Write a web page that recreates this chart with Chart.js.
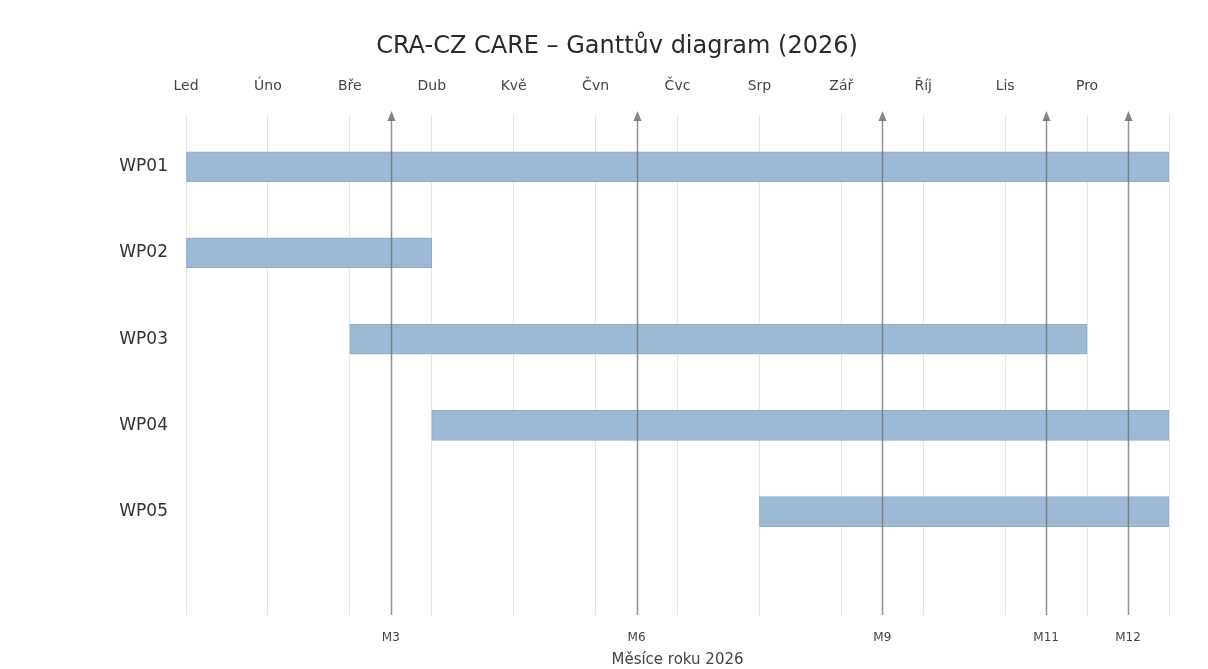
<!DOCTYPE html>
<html>
<head>
<meta charset="utf-8">
<script src="https://cdn.jsdelivr.net/npm/chart.js@4.4.1/dist/chart.umd.min.js"></script>
<style>
  html,body{margin:0;padding:0;background:#fff;}
  #wrap{width:1208px;height:669px;}
</style>
</head>
<body>
<div id="wrap"><canvas id="c" width="1208" height="669"></canvas></div>
<script>
const chartTitle = 'CRA-CZ CARE – Ganttův diagram (2026)';
const axisTitle = 'Měsíce roku 2026';
const workPackages = ['WP01', 'WP02', 'WP03', 'WP04', 'WP05'];
const startMonth = [0, 0, 2, 3, 7];
const endMonth = [12, 3, 11, 12, 12];
const monthLabels = ['Led', 'Úno', 'Bře', 'Dub', 'Kvě', 'Čvn', 'Čvc', 'Srp', 'Zář', 'Říj', 'Lis', 'Pro'];
const milestoneLabels = ['M3', 'M6', 'M9', 'M11', 'M12'];
const milestoneAt = [2.5, 5.5, 8.5, 10.5, 11.5];

const FONT = "'DejaVu Sans', sans-serif";

const milestonePlugin = {
  id: 'milestones',
  afterDatasetsDraw(chart) {
    const ctx = chart.ctx;
    const xs = chart.scales.x;
    const area = chart.chartArea;
    ctx.save();
    ctx.strokeStyle = 'rgba(110,110,110,0.75)';
    ctx.fillStyle = 'rgba(110,110,110,0.85)';
    ctx.lineWidth = 1.5;
    milestoneAt.forEach(v => {
      const px = Math.round(xs.getPixelForValue(v)) + 0.5;
      const tipY = area.top - 4;
      ctx.beginPath();
      ctx.moveTo(px, area.bottom);
      ctx.lineTo(px, tipY + 8);
      ctx.stroke();
      ctx.beginPath();
      ctx.moveTo(px, tipY);
      ctx.lineTo(px - 4, tipY + 10);
      ctx.lineTo(px + 4, tipY + 10);
      ctx.closePath();
      ctx.fill();
    });
    ctx.restore();
  }
};

new Chart(document.getElementById('c'), {
  type: 'bar',
  data: {
    datasets: [{
      data: workPackages.map((w, i) => ({ x: [startMonth[i], endMonth[i]], y: i })),
      backgroundColor: 'rgb(158,185,214)',
      borderColor: 'rgb(140,170,204)',
      borderWidth: 1,
      borderSkipped: false,
      barThickness: 30,
      xAxisID: 'x',
      yAxisID: 'y'
    }]
  },
  options: {
    indexAxis: 'y',
    responsive: false,
    animation: false,
    layout: { padding: { left: 65, right: 39, top: 0, bottom: 0 } },
    plugins: {
      legend: { display: false },
      tooltip: { enabled: false },
      title: {
        display: true,
        text: chartTitle,
        color: '#2a2a2a',
        font: { family: FONT, size: 24, weight: 'normal' },
        padding: { top: 32, bottom: 9 }
      }
    },
    scales: {
      x: {
        type: 'linear',
        position: 'top',
        min: 0,
        max: 12,
        offset: false,
        afterBuildTicks: s => { s.ticks = Array.from({ length: 13 }, (_, i) => ({ value: i })); },
        afterFit: s => { s.height = 45.2; },
        ticks: {
          callback: (v, i) => monthLabels[i] !== undefined ? monthLabels[i] : '',
          color: '#444',
          font: { family: FONT, size: 14 },
          padding: 20,
          maxRotation: 0,
          autoSkip: false
        },
        grid: { color: '#e6e6e6', lineWidth: 1, drawTicks: false },
        border: { display: false }
      },
      x2: {
        type: 'linear',
        position: 'bottom',
        min: 0,
        max: 12,
        offset: false,
        afterBuildTicks: s => { s.ticks = milestoneAt.map(v => ({ value: v })); },
        afterFit: s => { s.height = 54; },
        ticks: {
          callback: (v, i) => milestoneLabels[i],
          color: '#444',
          font: { family: FONT, size: 12 },
          padding: 16,
          maxRotation: 0,
          autoSkip: false
        },
        grid: { display: false, drawTicks: false },
        border: { display: false },
        title: {
          display: true,
          text: axisTitle,
          color: '#444',
          font: { family: FONT, size: 15 },
          padding: { top: 6, bottom: 0 }
        }
      },
      y: {
        type: 'linear',
        reverse: true,
        offset: false,
        min: -0.6,
        max: 5.2,
        afterBuildTicks: s => { s.ticks = workPackages.map((w, i) => ({ value: i })); },
        afterFit: s => { s.width = 121; },
        ticks: {
          callback: (v, i) => workPackages[i],
          color: '#333',
          font: { family: FONT, size: 17 },
          padding: 18
        },
        grid: { display: false, drawTicks: false },
        border: { display: false }
      }
    }
  },
  plugins: [milestonePlugin]
});
</script>
</body>
</html>
